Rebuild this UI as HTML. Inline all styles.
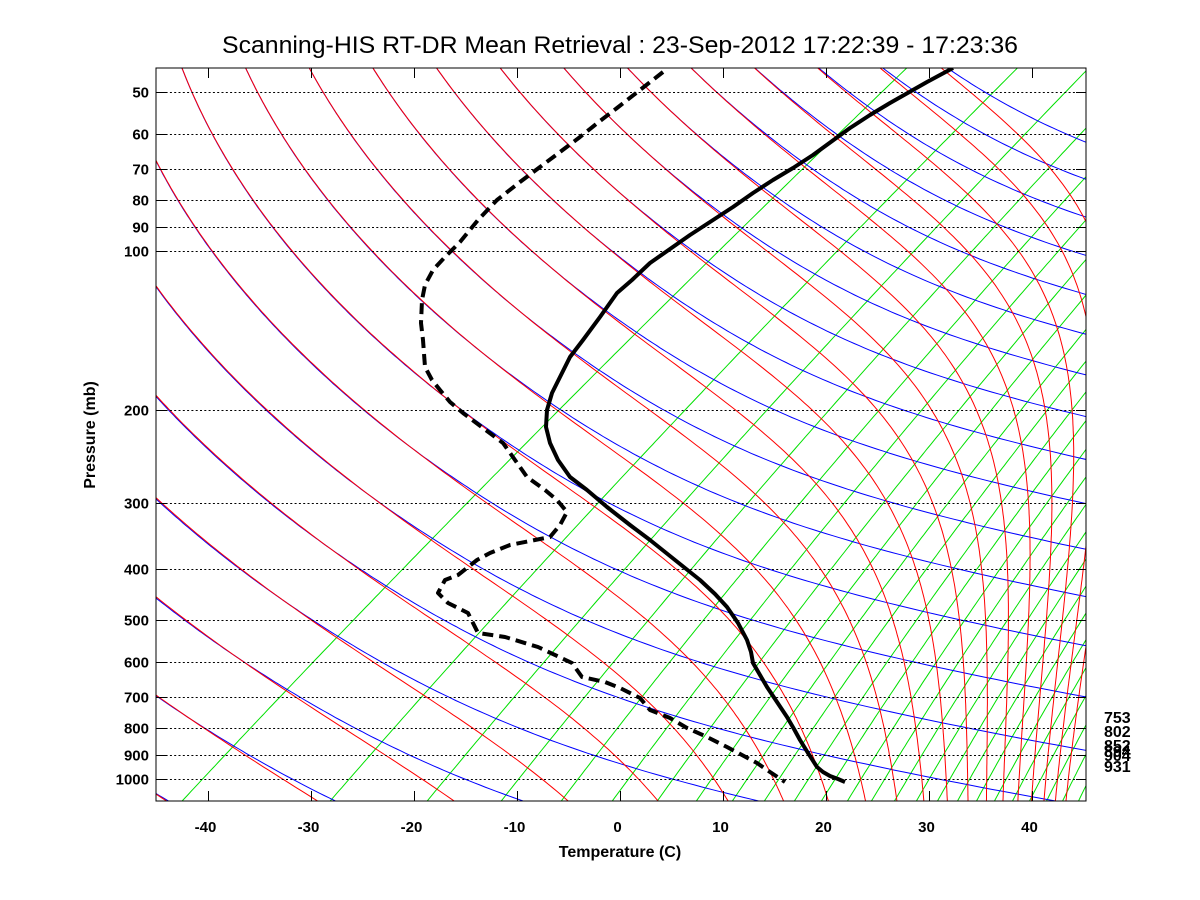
<!DOCTYPE html>
<html><head><meta charset="utf-8"><style>
html,body{margin:0;padding:0;background:#fff;}
svg{display:block;}
text{font-family:"Liberation Sans",Arial,sans-serif;}
</style></head><body>
<svg id="s" width="1200" height="900" viewBox="0 0 1200 900" xmlns="http://www.w3.org/2000/svg">
<defs><clipPath id="cp"><rect x="156" y="68" width="930" height="733"/></clipPath></defs>
<rect width="1200" height="900" fill="#fff"/>
<g id="lines" clip-path="url(#cp)"></g>
<g id="grid" stroke="#000" stroke-width="1" stroke-dasharray="2 2.3"></g>
<g clip-path="url(#cp)">
<polyline fill="none" stroke="#000" stroke-width="4" stroke-dasharray="11 6" stroke-linejoin="round" points="663,72 640,90 617,108 600,121 580,137 560,152 540,167 520,182 497,200 478,220 460,242 445,257 433,270 425,285 422,300 421,323 423,340 425,367 432,380 440,390 450,402 463,413 483,428 503,443 515,460 527,477 545,490 557,500 567,512 560,525 550,537 530,541 510,545 490,553 477,560 458,575 445,580 438,593 448,603 468,613 478,633 505,637 538,647 572,663 582,677 605,682 620,688 640,698 650,710 670,718 687,728 707,737 727,747 742,755 757,763 770,772 785,782"/>
<polyline fill="none" stroke="#000" stroke-width="4" stroke-linejoin="round" points="953,68 927,82 890,103 870,115 850,128 813,155 793,168 773,180 753,193 733,207 710,222 690,235 670,249 650,263 632,280 617,293 600,317 583,340 570,357 560,377 552,393 547,410 546,427 550,443 558,460 570,477 587,490 607,507 630,525 650,540 675,560 700,580 715,594 727,607 738,623 747,640 751,652 753,663 760,675 767,687 777,702 787,717 794,729 800,740 808,753 817,767 823,772 830,776 838,779 845,782"/>
</g>
<rect x="156" y="68" width="930" height="733" fill="none" stroke="#000" stroke-width="1"/>
<g id="ticks" stroke="#000" stroke-width="1"></g>
<g id="labels" font-size="15" font-weight="bold" fill="#000"></g>
<text x="222" y="53" font-size="24" textLength="796" lengthAdjust="spacingAndGlyphs">Scanning-HIS RT-DR Mean Retrieval : 23-Sep-2012 17:22:39 - 17:23:36</text>
<text x="620" y="857" font-size="16" font-weight="bold" text-anchor="middle">Temperature (C)</text>
<text transform="translate(95,435) rotate(-90)" font-size="16" font-weight="bold" text-anchor="middle">Pressure (mb)</text>
<g font-size="16" font-weight="bold">
<text x="1104" y="723">753</text>
<text x="1104" y="737">802</text>
<text x="1104" y="751">852</text>
<text x="1104" y="757">894</text>
<text x="1104" y="761">904</text>
<text x="1104" y="772">931</text>
</g>
</svg>
<script>
(function(){
var NS="http://www.w3.org/2000/svg";
var S=70;
function X(T,p){var u=Math.log10(1000/p);return 620+10.3*(T+S*u);}
function Y(p){return 779-528*Math.log10(1000/p);}
var g=document.getElementById('lines');
function path(pts,col){var d="";for(var i=0;i<pts.length;i++){d+=(i?"L":"M")+pts[i][0].toFixed(1)+","+pts[i][1].toFixed(1);}
var e=document.createElementNS(NS,"path");e.setAttribute("d",d);e.setAttribute("fill","none");e.setAttribute("stroke",col);e.setAttribute("stroke-width","1");g.appendChild(e);}
var ps=[];for(var p=1120;p>=42;p*=0.985)ps.push(p);ps.push(42);
function es(Tc){return 6.112*Math.exp(17.67*Tc/(Tc+243.5));}
function rsat(TK,p){var e=es(TK-273.15);if(e>p*0.5)e=p*0.5;return 0.622*e/(p-e);}
function thetaE(TK,p){var rs=rsat(TK,p);return TK*Math.pow(1000/p,0.286)*Math.exp(2.5e6*rs/(1004*TK));}
var ints=[183,331,428,502,562,613,658,697,733,765,795,822,848,872,895,917,938,958,977,995,1013,1030,1047,1063,1079,1094,1109];
var pb=1096;
ints.forEach(function(xi){var Td=(xi-620)/10.3+70*Math.log10(pb/1000);var e=es(Td);var w=0.622*e/(pb-e);
var pts=[];ps.forEach(function(p){var ee=w*p/(0.622+w);var l=Math.log(ee/6.112);var T=243.5*l/(17.67-l);pts.push([X(T,p),Y(p)]);});path(pts,"#00e000");});
function solveE(t,p){var lo=80,hi=360;for(var k=0;k<50;k++){var m=(lo+hi)/2;if(thetaE(m,p)>t)hi=m;else lo=m;}return (lo+hi)/2;}
// blue: integrate downward from top with "anti-moist" lapse
function blue(t){var pts=[];var p=42;var TK=t*Math.pow(p/1000,0.286);var dl=0.004;
 while(p<1125){pts.push([X(TK-273.15,p),Y(p)]);
  var rs=rsat(TK,p);var r=(1+2.5e6*rs/(287*TK))/(1+2.5e6*2.5e6*rs*0.622/(1004*287*TK*TK));
  var f=2-r; if(f>2.2)f=2.2;
  TK=TK+0.286*TK*f*dl*Math.LN10; if(TK>420)break;
  p=p*Math.pow(10,dl);}
 path(pts,"#0000ff");}
var th=[];for(var t=301-15*8;t<=301+15*14;t+=15)th.push(t);
th.forEach(function(t){
 blue(t);
 var pr=[];ps.forEach(function(p){var TK=solveE(t,p);pr.push([X(TK-273.15,p),Y(p)]);});path(pr,"#ff0000");
});
var gr=document.getElementById('grid'),tk=document.getElementById('ticks'),lb=document.getElementById('labels');
function line(par,x1,y1,x2,y2){var e=document.createElementNS(NS,"line");e.setAttribute("x1",x1);e.setAttribute("y1",y1);e.setAttribute("x2",x2);e.setAttribute("y2",y2);par.appendChild(e);}
function txt(x,y,s,anc){var e=document.createElementNS(NS,"text");e.setAttribute("x",x);e.setAttribute("y",y);e.setAttribute("text-anchor",anc);e.textContent=s;lb.appendChild(e);}
[50,60,70,80,90,100,200,300,400,500,600,700,800,900,1000].forEach(function(p){var y=Math.round(Y(p))+0.5;line(gr,157,y,1085,y);line(tk,156,y,166,y);line(tk,1076,y,1086,y);txt(149,y+5,String(p),"end");});
for(var T=-40;T<=40;T+=10){var x=620+10.3*T;x=Math.round(x)+0.5;line(tk,x,801,x,791);line(tk,x,68,x,78);txt(x-3,832,String(T),"middle");}
})();
</script>
</body></html>
